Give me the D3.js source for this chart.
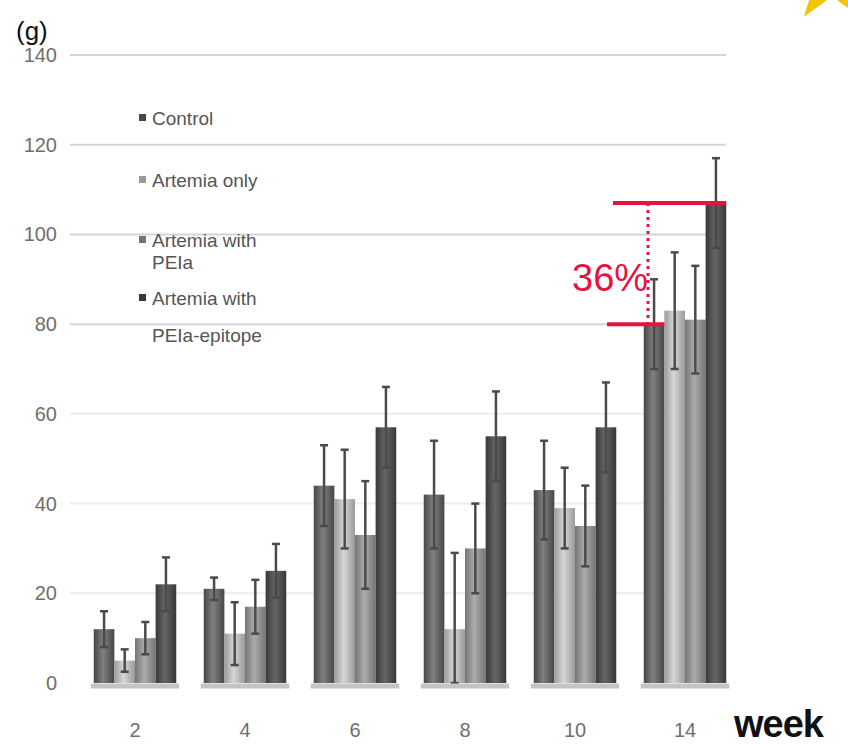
<!DOCTYPE html>
<html>
<head>
<meta charset="utf-8">
<script src="https://cdn.jsdelivr.net/npm/d3@7"></script>
<style>
  body { margin: 0; background: #fff; }
  svg { display: block; font-family: "Liberation Sans", Arial, sans-serif; }
</style>
</head>
<body>
<div id="chart"></div>
<script>
var width = 848;
var height = 744;

// data (grams)
var weeks = ["2", "4", "6", "8", "10", "14"];
var seriesNames = ["Control", "Artemia only", "Artemia with PEIa", "Artemia with PEIa-epitope"];
var legendLines = [["Control"], ["Artemia only"], ["Artemia with", "PEIa"], ["Artemia with", "PEIa-epitope"]];
var control      = [12, 21, 44, 42, 43, 80];
var artemiaOnly  = [5, 11, 41, 12, 39, 83];
var artemiaPEIa  = [10, 17, 33, 30, 35, 81];
var artemiaEpi   = [22, 25, 57, 55, 57, 107];
var controlErr     = [4, 2.5, 9, 12, 11, 10];
var artemiaOnlyErr = [2.5, 7, 11, 17, 9, 13];
var artemiaPEIaErr = [3.6, 6, 12, 10, 9, 12];
var artemiaEpiErr  = [6, 6, 9, 10, 10, 10];
var yTicks = [0, 20, 40, 60, 80, 100, 120, 140];
var percentLabel = "36%";

var values = [control, artemiaOnly, artemiaPEIa, artemiaEpi];
var errors = [controlErr, artemiaOnlyErr, artemiaPEIaErr, artemiaEpiErr];

// cylinder-ish shading: edge colour, middle colour
var shades = [["#474747", "#808080"], ["#9a9a9a", "#d6d6d6"], ["#747474", "#acacac"], ["#383838", "#666666"]];

var svg = d3.select("#chart")
            .append("svg")
            .attr("width", width)
            .attr("height", height);

var defs = svg.append("defs");
shades.forEach(function(s, i){
    var g = defs.append("linearGradient")
                .attr("id", "shade" + i)
                .attr("x1", "0%").attr("x2", "100%")
                .attr("y1", "0%").attr("y2", "0%");
    g.append("stop").attr("offset", "0%").attr("stop-color", s[0]);
    g.append("stop").attr("offset", "45%").attr("stop-color", s[1]);
    g.append("stop").attr("offset", "100%").attr("stop-color", s[0]);
});

var x = d3.scaleBand()
          .domain(weeks)
          .range([80, 740])
          .paddingInner(0.25)
          .paddingOuter(0.125);

var xSub = d3.scaleBand()
             .domain(d3.range(seriesNames.length))
             .range([0, x.bandwidth()]);

var y = d3.scaleLinear()
          .domain([0, 140])
          .range([683, 55]);

// gridlines
svg.append("g")
    .selectAll("line")
    .data(yTicks.filter(function(d){ return d > 0; }))
    .enter()
    .append("line")
    .attr("x1", 70)
    .attr("x2", 726)
    .attr("y1", function(d){ return y(d); })
    .attr("y2", function(d){ return y(d); })
    .style("stroke", function(d){ return d >= 80 ? "#d3d3dc" : "#ececf0"; })
    .style("stroke-width", 2);

// y tick labels
svg.append("g")
    .selectAll("text")
    .data(yTicks)
    .enter()
    .append("text")
    .attr("x", 57)
    .attr("y", function(d){ return y(d) + 7; })
    .attr("text-anchor", "end")
    .style("font-size", "20px")
    .style("fill", "#6e6e6e")
    .text(function(d){ return d; });

// bars
var groups = svg.append("g")
    .selectAll("g")
    .data(weeks)
    .enter()
    .append("g")
    .attr("transform", function(d){ return "translate(" + x(d) + ",0)"; });

groups.selectAll("rect")
    .data(function(d, i){ return values.map(function(v, s){ return {s: s, v: v[i], e: errors[s][i]}; }); })
    .enter()
    .append("rect")
    .attr("x", function(d){ return xSub(d.s); })
    .attr("width", xSub.bandwidth())
    .attr("y", function(d){ return y(d.v); })
    .attr("height", function(d){ return y(0) - y(d.v); })
    .style("fill", function(d){ return "url(#shade" + d.s + ")"; });

// error bars
var err = groups.selectAll("g.err")
    .data(function(d, i){ return values.map(function(v, s){ return {s: s, v: v[i], e: errors[s][i]}; }); })
    .enter()
    .append("g")
    .attr("class", "err");

err.append("line")
    .attr("x1", function(d){ return xSub(d.s) + xSub.bandwidth() / 2; })
    .attr("x2", function(d){ return xSub(d.s) + xSub.bandwidth() / 2; })
    .attr("y1", function(d){ return y(d.v + d.e); })
    .attr("y2", function(d){ return y(Math.max(0, d.v - d.e)); })
    .style("stroke", "#4a4a4a")
    .style("stroke-width", 2.5);

err.append("line")
    .attr("x1", function(d){ return xSub(d.s) + xSub.bandwidth() / 2 - 4; })
    .attr("x2", function(d){ return xSub(d.s) + xSub.bandwidth() / 2 + 4; })
    .attr("y1", function(d){ return y(d.v + d.e); })
    .attr("y2", function(d){ return y(d.v + d.e); })
    .style("stroke", "#4a4a4a")
    .style("stroke-width", 2.5);

err.append("line")
    .attr("x1", function(d){ return xSub(d.s) + xSub.bandwidth() / 2 - 4; })
    .attr("x2", function(d){ return xSub(d.s) + xSub.bandwidth() / 2 + 4; })
    .attr("y1", function(d){ return y(Math.max(0, d.v - d.e)); })
    .attr("y2", function(d){ return y(Math.max(0, d.v - d.e)); })
    .style("stroke", "#4a4a4a")
    .style("stroke-width", 2.5);

// baseline under each group
svg.append("g")
    .selectAll("line")
    .data(weeks)
    .enter()
    .append("line")
    .attr("x1", function(d){ return x(d) - 3; })
    .attr("x2", function(d){ return x(d) + x.bandwidth() + 3; })
    .attr("y1", y(0) + 3)
    .attr("y2", y(0) + 3)
    .style("stroke", "#c4c4c4")
    .style("stroke-width", 5);

// x labels
svg.append("g")
    .selectAll("text")
    .data(weeks)
    .enter()
    .append("text")
    .attr("x", function(d){ return x(d) + x.bandwidth() / 2; })
    .attr("y", 737)
    .attr("text-anchor", "middle")
    .style("font-size", "20px")
    .style("fill", "#6e6e6e")
    .text(function(d){ return d; });

svg.append("text")
    .attr("x", 734)
    .attr("y", 737)
    .style("font-size", "38px")
    .style("font-weight", "bold")
    .style("letter-spacing", "-1px")
    .style("fill", "#111")
    .text("week");

svg.append("text")
    .attr("x", 16)
    .attr("y", 40)
    .style("font-size", "26px")
    .style("fill", "#111")
    .text("(g)");

// legend
var legendY = [118, 180, 240, 298];
var secondLineGap = [0, 0, 22, 37];
var legend = svg.append("g")
    .selectAll("g")
    .data(seriesNames)
    .enter()
    .append("g")
    .attr("transform", function(d, i){ return "translate(139," + legendY[i] + ")"; });

legend.append("rect")
    .attr("x", 0)
    .attr("y", -4)
    .attr("width", 7)
    .attr("height", 7)
    .style("fill", function(d, i){ return shades[i][0]; });

legend.each(function(d, i){
    var t = d3.select(this).append("text")
        .attr("x", 13)
        .attr("y", 7)
        .style("font-size", "19px")
        .style("fill", "#555");
    t.selectAll("tspan")
        .data(legendLines[i])
        .enter()
        .append("tspan")
        .attr("x", 13)
        .attr("dy", function(d, j){ return j === 0 ? 0 : secondLineGap[i]; })
        .text(function(d){ return d; });
});

// red annotation on week 14: epitope vs control
var red = "#e8123f";
var x14 = x("14");
svg.append("line")
    .attr("x1", 613)
    .attr("x2", x14 + xSub(3) + xSub.bandwidth())
    .attr("y1", y(artemiaEpi[5]))
    .attr("y2", y(artemiaEpi[5]))
    .style("stroke", red)
    .style("stroke-width", 4);

svg.append("line")
    .attr("x1", 607)
    .attr("x2", x14 + xSub(1))
    .attr("y1", y(control[5]))
    .attr("y2", y(control[5]))
    .style("stroke", red)
    .style("stroke-width", 4);

svg.append("line")
    .attr("x1", 648)
    .attr("x2", 648)
    .attr("y1", y(artemiaEpi[5]))
    .attr("y2", y(control[5]))
    .style("stroke", red)
    .style("stroke-width", 3)
    .style("stroke-dasharray", "3,4");

svg.append("text")
    .attr("x", 572)
    .attr("y", 291)
    .style("font-size", "38px")
    .style("fill", red)
    .text(percentLabel);

// bit of yellow star peeking in at the top right corner
var star = d3.symbol().type(d3.symbolStar).size(2600);
svg.append("path")
    .attr("d", star())
    .attr("transform", "translate(832,-22)")
    .style("fill", "#f5c400");
</script>
</body>
</html>
